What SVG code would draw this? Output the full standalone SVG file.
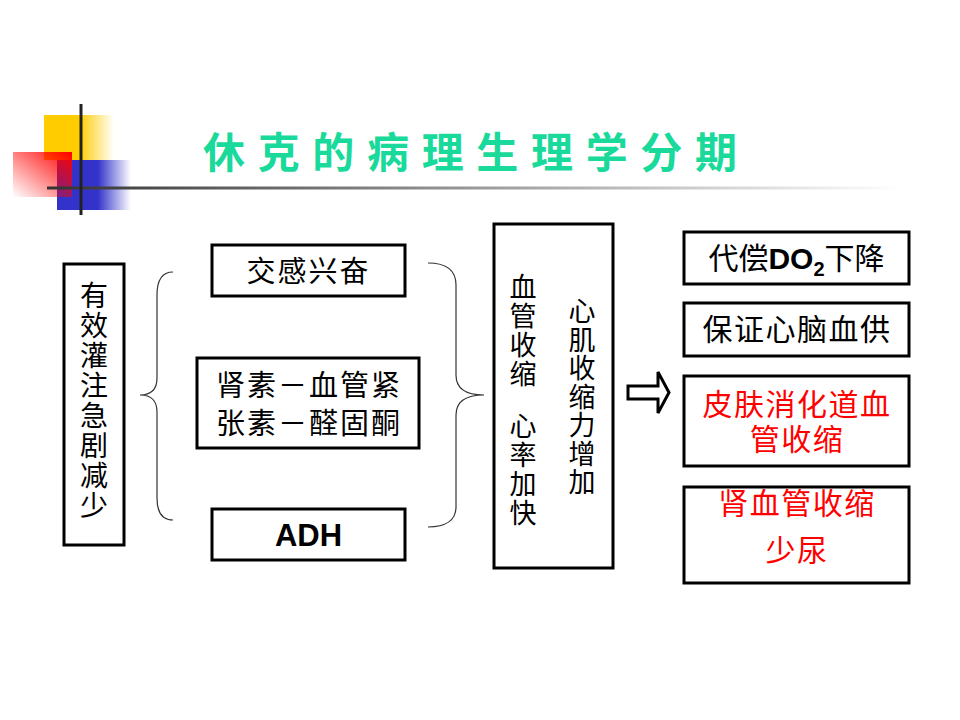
<svg xmlns="http://www.w3.org/2000/svg" width="960" height="720" viewBox="0 0 960 720">
<defs>
<linearGradient id="gY" x1="0" y1="0" x2="1" y2="0"><stop offset="0" stop-color="#ffcc00"/><stop offset="0.5" stop-color="#ffcc00"/><stop offset="1" stop-color="#ffcc00" stop-opacity="0"/></linearGradient>
<linearGradient id="gB" x1="0" y1="0" x2="1" y2="0"><stop offset="0" stop-color="#3333cc"/><stop offset="0.55" stop-color="#3333cc"/><stop offset="1" stop-color="#3333cc" stop-opacity="0"/></linearGradient>
<linearGradient id="gR" x1="1" y1="0" x2="0" y2="1"><stop offset="0" stop-color="#ff0000"/><stop offset="1" stop-color="#ff0000" stop-opacity="0"/></linearGradient>
<linearGradient id="gL" x1="0" y1="0" x2="1" y2="0"><stop offset="0" stop-color="#333333"/><stop offset="0.5" stop-color="#999999"/><stop offset="1" stop-color="#ffffff"/></linearGradient>
<style>
.box{fill:#fff;stroke:#000;stroke-width:3}
.t{font-family:"Noto Sans CJK SC","Noto Sans",sans-serif;fill:#000}
.c{text-anchor:middle}
.red{fill:#ff0000}
.brace{fill:none;stroke:#333;stroke-width:1.2}
</style>
</defs>
<rect width="960" height="720" fill="#fff"/>
<g id="decoration">
<rect x="44" y="115" width="70" height="45" fill="url(#gY)"/>
<rect x="57" y="160" width="74" height="50" fill="url(#gB)"/>
<rect x="13" y="152" width="59" height="45" fill="url(#gR)"/>
<rect x="47" y="186.5" width="855" height="3" fill="url(#gL)"/>
<line x1="81" y1="104" x2="81" y2="215" stroke="#222" stroke-width="3"/>
</g>
<g id="title">
<text x="203" y="168" font-family="Noto Sans CJK SC, sans-serif" font-size="42" font-weight="bold" fill="#19d99b" textLength="534" lengthAdjust="spacing">休克的病理生理学分期</text>
</g>
<g id="node-left">
<rect class="box" x="64" y="264" width="60" height="281"/>
<text class="t c" font-size="28"><tspan x="94" y="306">有</tspan><tspan x="94" y="336">效</tspan><tspan x="94" y="366">灌</tspan><tspan x="94" y="396">注</tspan><tspan x="94" y="426">急</tspan><tspan x="94" y="456">剧</tspan><tspan x="94" y="486">减</tspan><tspan x="94" y="516">少</tspan></text>
</g>
<g id="node-sympathetic">
<rect class="box" x="212" y="245" width="193" height="51"/>
<text class="t c" x="308.5" y="282" font-size="29" letter-spacing="2">交感兴奋</text>
</g>
<g id="node-raas">
<rect class="box" x="197" y="358" width="222" height="90"/>
<text class="t c" font-size="29" letter-spacing="2"><tspan x="309" y="396">肾素－血管紧</tspan><tspan x="309" y="434">张素－醛固酮</tspan></text>
</g>
<g id="node-adh">
<rect class="box" x="212" y="509" width="193" height="51"/>
<text x="308.5" y="546" font-family="Liberation Sans, Arial, sans-serif" font-weight="bold" font-size="31" text-anchor="middle">ADH</text>
</g>
<g id="node-middle">
<rect class="box" x="494" y="224" width="119" height="344"/>
<text class="t c" font-size="27"><tspan x="523" y="297">血</tspan><tspan x="523" y="326">管</tspan><tspan x="523" y="355">收</tspan><tspan x="523" y="384">缩</tspan><tspan x="523" y="436">心</tspan><tspan x="523" y="465">率</tspan><tspan x="523" y="494">加</tspan><tspan x="523" y="523">快</tspan></text>
<text class="t c" font-size="27"><tspan x="582" y="321">心</tspan><tspan x="582" y="350">肌</tspan><tspan x="582" y="378">收</tspan><tspan x="582" y="407">缩</tspan><tspan x="582" y="435">力</tspan><tspan x="582" y="464">增</tspan><tspan x="582" y="492">加</tspan></text>
</g>
<g id="node-r1">
<rect class="box" x="684" y="232" width="225" height="52"/>
<text class="t c" x="796.5" y="269" font-size="30">代偿<tspan font-family="Liberation Sans, Arial, sans-serif" font-weight="bold">DO</tspan><tspan font-family="Liberation Sans, Arial, sans-serif" font-weight="bold" font-size="20" dy="7">2</tspan><tspan dy="-7">下降</tspan></text>
</g>
<g id="node-r2">
<rect class="box" x="684" y="303" width="225" height="53"/>
<text class="t c" x="797" y="340" font-size="30" letter-spacing="1.5">保证心脑血供</text>
</g>
<g id="node-r3">
<rect class="box" x="684" y="376" width="225" height="90"/>
<text class="t c red" font-size="30" letter-spacing="1.5"><tspan x="797" y="415">皮肤消化道血</tspan><tspan x="797" y="450">管收缩</tspan></text>
</g>
<g id="node-r4">
<rect class="box" x="684" y="487" width="225" height="96"/>
<text class="t c red" font-size="30" letter-spacing="1.5"><tspan x="797" y="514">肾血管收缩</tspan><tspan x="797" y="561">少尿</tspan></text>
</g>
<g id="connectors">
<path class="brace" d="M173,272 C162,272 157,280 157,295 L157,378 C157,390 150,395 140,395 C150,395 157,400 157,412 L157,498 C157,512 162,520 173,520"/>
<path class="brace" d="M428,263 C446,263 456,270 456,285 L456,375 C456,388 465,395 484,395 C465,395 456,402 456,415 L456,507 C456,520 446,527 428,527"/>
<path d="M628,386 L658,386 L658,372 L669,392.5 L658,413 L658,399 L628,399 Z" fill="#fff" stroke="#000" stroke-width="3" stroke-linejoin="miter"/>
</g>
</svg>
